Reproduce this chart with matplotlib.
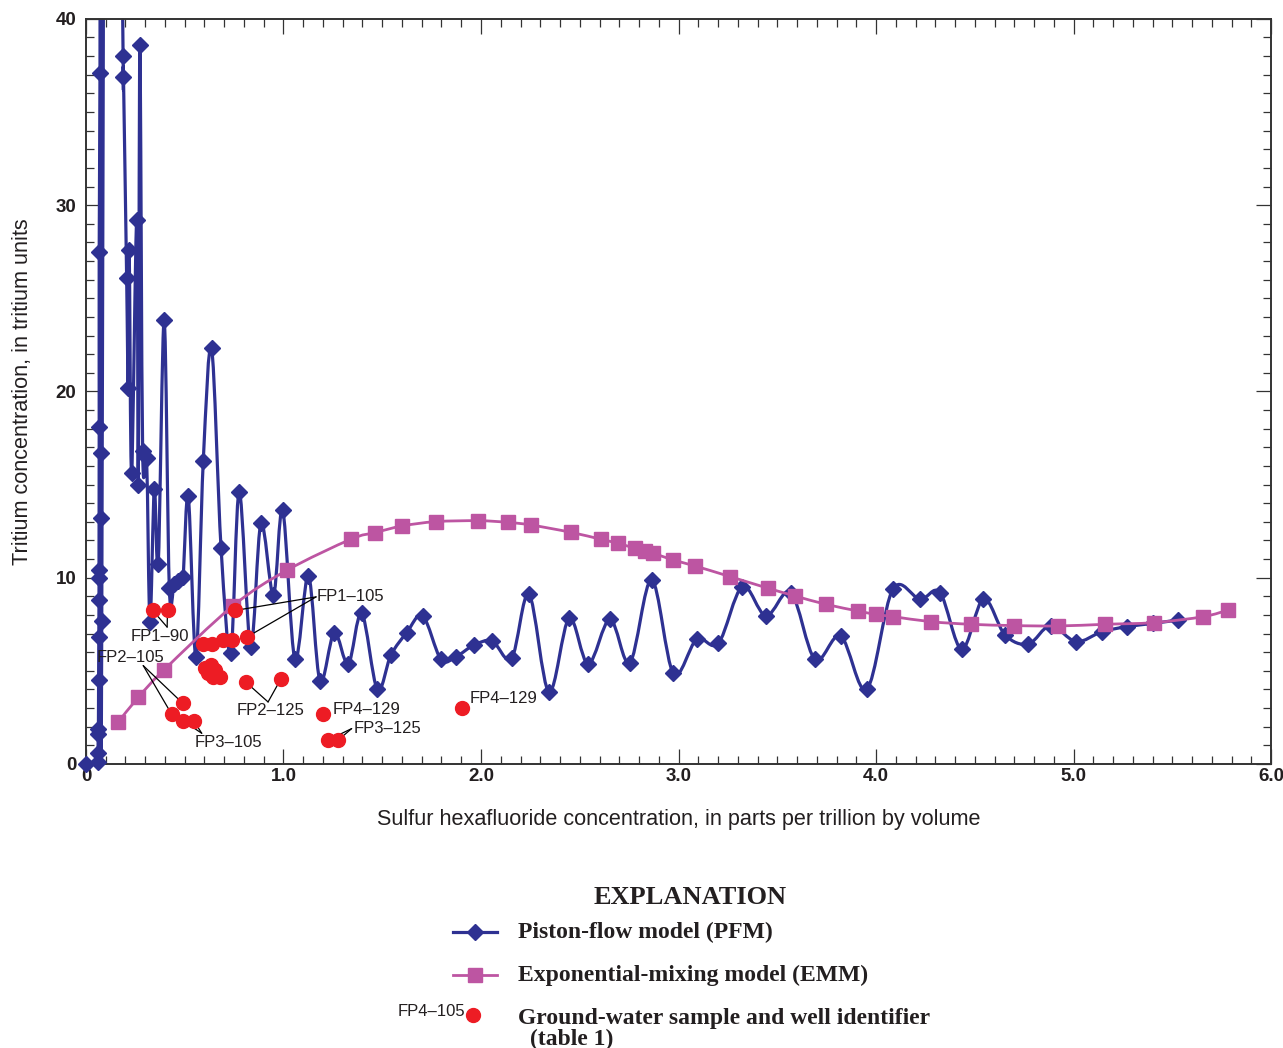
import numpy as np
import matplotlib
matplotlib.use('Agg')
import matplotlib.pyplot as plt
from matplotlib.path import Path
from matplotlib.patches import PathPatch
from matplotlib.lines import Line2D
from matplotlib.ticker import MultipleLocator

plt.rcParams['font.family'] = ['Liberation Sans', 'DejaVu Sans']

# Piston-flow model, in curve order (values above 40 run off the top of the chart)
pfm_x = [0.0, 0.060, 0.061, 0.062, 0.063, 0.064, 0.065, 0.066, 0.066, 0.066,
         0.067, 0.067, 0.071, 0.073, 0.076, 0.078, 0.080, 0.120, 0.170,
         0.188, 0.190, 0.206, 0.214, 0.219, 0.231, 0.257, 0.265, 0.273, 0.287,
         0.307, 0.324, 0.346, 0.366, 0.396, 0.422, 0.446, 0.466, 0.491, 0.518,
         0.557, 0.594, 0.636, 0.684, 0.733, 0.776, 0.834, 0.886, 0.949, 0.996,
         1.058, 1.126, 1.185, 1.257, 1.328, 1.396, 1.475, 1.544, 1.624, 1.705,
         1.797, 1.873, 1.965, 2.057, 2.155, 2.243, 2.344, 2.446, 2.543, 2.653,
         2.754, 2.864, 2.974, 3.092, 3.202, 3.323, 3.443, 3.569, 3.691, 3.821,
         3.953, 4.085, 4.223, 4.324, 4.434, 4.544, 4.653, 4.771, 4.884, 5.013,
         5.143, 5.269, 5.404, 5.531]
pfm_y = [0.0, 0.1, 0.6, 1.6, 1.9, 4.5, 6.8, 8.8, 10.0, 10.4,
         18.1, 27.5, 37.1, 52.0, 16.7, 13.2, 7.7, 140.0, 60.0,
         38.0, 36.9, 26.1, 20.2, 27.6, 15.6, 29.2, 15.0, 38.6, 16.8,
         16.4, 7.6, 14.75, 10.74, 23.84, 9.45, 9.66, 9.82, 10.04, 14.39,
         5.76, 16.29, 22.32, 11.6, 5.94, 14.62, 6.3, 12.92, 9.07, 13.64,
         5.62, 10.1, 4.47, 7.05, 5.37, 8.09, 4.01, 5.85, 7.05, 7.95,
         5.62, 5.76, 6.39, 6.6, 5.67, 9.11, 3.87, 7.82, 5.37, 7.77,
         5.44, 9.88, 4.87, 6.69, 6.48, 9.52, 7.95, 9.2, 5.62, 6.87,
         4.01, 9.38, 8.84, 9.2, 6.16, 8.86, 6.93, 6.44, 7.43, 6.57,
         7.1, 7.37, 7.55, 7.73]

# Exponential-mixing model
emm_x = [0.164, 0.265, 0.395, 0.743, 1.016, 1.34, 1.463, 1.602, 1.772, 1.987,
         2.138, 2.253, 2.454, 2.608, 2.692, 2.78, 2.83, 2.873, 2.974, 3.084,
         3.261, 3.455, 3.59, 3.747, 3.91, 4.0, 4.088, 4.278, 4.479, 4.699,
         4.923, 5.159, 5.408, 5.657, 5.784]
emm_y = [2.26, 3.58, 5.05, 8.48, 10.39, 12.06, 12.42, 12.78, 13.01, 13.06,
         12.97, 12.83, 12.44, 12.06, 11.85, 11.58, 11.44, 11.31, 10.95, 10.63,
         10.06, 9.43, 9.02, 8.57, 8.21, 8.03, 7.91, 7.64, 7.5, 7.43,
         7.41, 7.5, 7.59, 7.91, 8.27]

# Ground-water samples
sample_x = [0.338, 0.413, 0.754, 0.814, 0.594, 0.636, 0.695, 0.738, 0.603, 0.631,
            0.653, 0.619, 0.678, 0.645, 0.81, 0.987, 0.49, 0.434, 0.493, 0.547,
            1.2, 1.227, 1.278, 1.905]
sample_y = [8.24, 8.24, 8.24, 6.81, 6.42, 6.42, 6.63, 6.63, 5.14, 5.32,
            5.05, 4.87, 4.65, 4.69, 4.39, 4.57, 3.26, 2.67, 2.31, 2.31,
            2.68, 1.29, 1.29, 3.0]

# well identifiers and the samples each one points to
well_labels = ['FP1\u201390', 'FP2\u2013105', 'FP3\u2013105', 'FP1\u2013105',
               'FP2\u2013125', 'FP4\u2013129', 'FP3\u2013125', 'FP4\u2013129']
well_targets = [[0, 1], [16, 17], [18, 19], [2, 3], [14, 15], [], [21, 22], []]

xtick_vals = [0, 1, 2, 3, 4, 5, 6]
xtick_labels = ['0', '1.0', '2.0', '3.0', '4.0', '5.0', '6.0']
ytick_vals = [0, 10, 20, 30, 40]

PFM_C = '#2e3192'
EMM_C = '#bd55a2'
RED = '#ed1c24'
AX_C = '#333333'
TXT = '#231f20'


def smooth_path(x, y):
    # Catmull-Rom curve through the points, drawn as cubic Bezier segments
    p = np.column_stack([x, y]).astype(float)
    pe = np.vstack([p[0], p, p[-1]])
    verts = [p[0]]
    codes = [Path.MOVETO]
    for i in range(len(p) - 1):
        p0, p1, p2, p3 = pe[i], pe[i + 1], pe[i + 2], pe[i + 3]
        verts += [p1 + (p2 - p0) / 6, p2 - (p3 - p1) / 6, p2]
        codes += [Path.CURVE4] * 3
    return Path(verts, codes)


fig = plt.figure(figsize=(12.83, 10.48), dpi=100)
ax = fig.add_axes([0.067, 0.271, 0.9237, 0.711])

# PFM
ax.add_patch(PathPatch(smooth_path(pfm_x, pfm_y), fill=False, edgecolor=PFM_C,
                       lw=2.3, joinstyle='round', zorder=2))
px = np.array(pfm_x)
py = np.array(pfm_y)
vis = py <= 40
ax.plot(px[vis], py[vis], 'D', color=PFM_C, ms=8.5, mec=PFM_C, zorder=3, clip_on=False)

# EMM
ax.add_patch(PathPatch(smooth_path(emm_x, emm_y), fill=False, edgecolor=EMM_C,
                       lw=2.0, zorder=4))
ax.plot(emm_x, emm_y, 's', color=EMM_C, ms=9.5, zorder=5, clip_on=False)

# samples
ax.plot(sample_x, sample_y, 'o', color=RED, ms=10, mec=RED, zorder=7, clip_on=False)

# identifiers: text position, alignment, leader start
label_pos = [(0.375, 6.82, 'center'), (0.223, 5.69, 'center'), (0.719, 1.13, 'center'),
             (1.17, 8.97, 'left'), (0.937, 2.85, 'center'), (1.249, 2.94, 'left'),
             (1.357, 1.92, 'left'), (1.941, 3.53, 'left')]
leader_from = [(0.411, 7.35), (0.29, 5.28), (0.586, 1.65), (1.165, 8.97),
               (0.922, 3.33), None, (1.345, 1.9), None]
for lab, (tx, ty, ha), src, tg in zip(well_labels, label_pos, leader_from, well_targets):
    ax.text(tx, ty, lab, ha=ha, va='center', fontsize=12, color=TXT, zorder=8)
    for k in tg:
        ax.annotate('', xy=(sample_x[k], sample_y[k]), xytext=src,
                    arrowprops=dict(arrowstyle='-', lw=0.9, color='black',
                                    shrinkA=0, shrinkB=0), zorder=6)

ax.set_xlim(0, 6)
ax.set_ylim(0, 40)
ax.set_xticks(xtick_vals)
ax.set_xticklabels(xtick_labels)
ax.set_yticks(ytick_vals)
ax.xaxis.set_minor_locator(MultipleLocator(0.1))
ax.yaxis.set_minor_locator(MultipleLocator(1))
ax.tick_params(which='both', direction='in', top=True, right=True, color=AX_C, width=0.9)
ax.tick_params(which='major', length=11)
ax.tick_params(which='minor', length=5.5)
ax.tick_params(axis='x', which='major', pad=3, labelsize=13.5)
ax.tick_params(axis='y', which='major', pad=7, labelsize=13.5)
for t in ax.get_xticklabels() + ax.get_yticklabels():
    t.set_fontweight('bold')
    t.set_color(TXT)
for s in ax.spines.values():
    s.set_color(AX_C)
    s.set_linewidth(1.4)

ax.set_xlabel('Sulfur hexafluoride concentration, in parts per trillion by volume',
              fontsize=15.6, color=TXT)
ax.set_ylabel('Tritium concentration, in tritium units', fontsize=15.6, color=TXT)
ax.xaxis.set_label_coords(0.5, -0.06)
ax.yaxis.set_label_coords(-0.045, 0.5)

# explanation
serif = ['Liberation Serif', 'DejaVu Serif']
fig.text(0.538, 0.144, 'EXPLANATION', ha='center', va='center', fontsize=19,
         fontweight='bold', family=serif, color=TXT)
fig.add_artist(Line2D([0.353, 0.387], [0.1107, 0.1107], color=PFM_C, lw=2.3,
                      transform=fig.transFigure))
fig.add_artist(Line2D([0.370], [0.1107], marker='D', ms=8.5, color=PFM_C,
                      transform=fig.transFigure))
fig.text(0.404, 0.1107, 'Piston-flow model (PFM)', ha='left', va='center', fontsize=17,
         fontweight='bold', family=serif, color=TXT)
fig.add_artist(Line2D([0.353, 0.387], [0.0697, 0.0697], color=EMM_C, lw=2.0,
                      transform=fig.transFigure))
fig.add_artist(Line2D([0.370], [0.0697], marker='s', ms=9.5, color=EMM_C,
                      transform=fig.transFigure))
fig.text(0.404, 0.0697, 'Exponential-mixing model (EMM)', ha='left', va='center',
         fontsize=17, fontweight='bold', family=serif, color=TXT)
fig.add_artist(Line2D([0.369], [0.0315], marker='o', ms=10, color=RED, mec=RED,
                      transform=fig.transFigure))
fig.text(0.363, 0.0353, 'FP4\u2013105', ha='right', va='center', fontsize=12,
         color=TXT)
fig.text(0.404, 0.0286, 'Ground-water sample and well identifier', ha='left',
         va='center', fontsize=17, fontweight='bold', family=serif, color=TXT)
fig.text(0.413, 0.008, '(table 1)', ha='left', va='center', fontsize=17,
         fontweight='bold', family=serif, color=TXT)

fig.savefig('out.png', dpi=100)
